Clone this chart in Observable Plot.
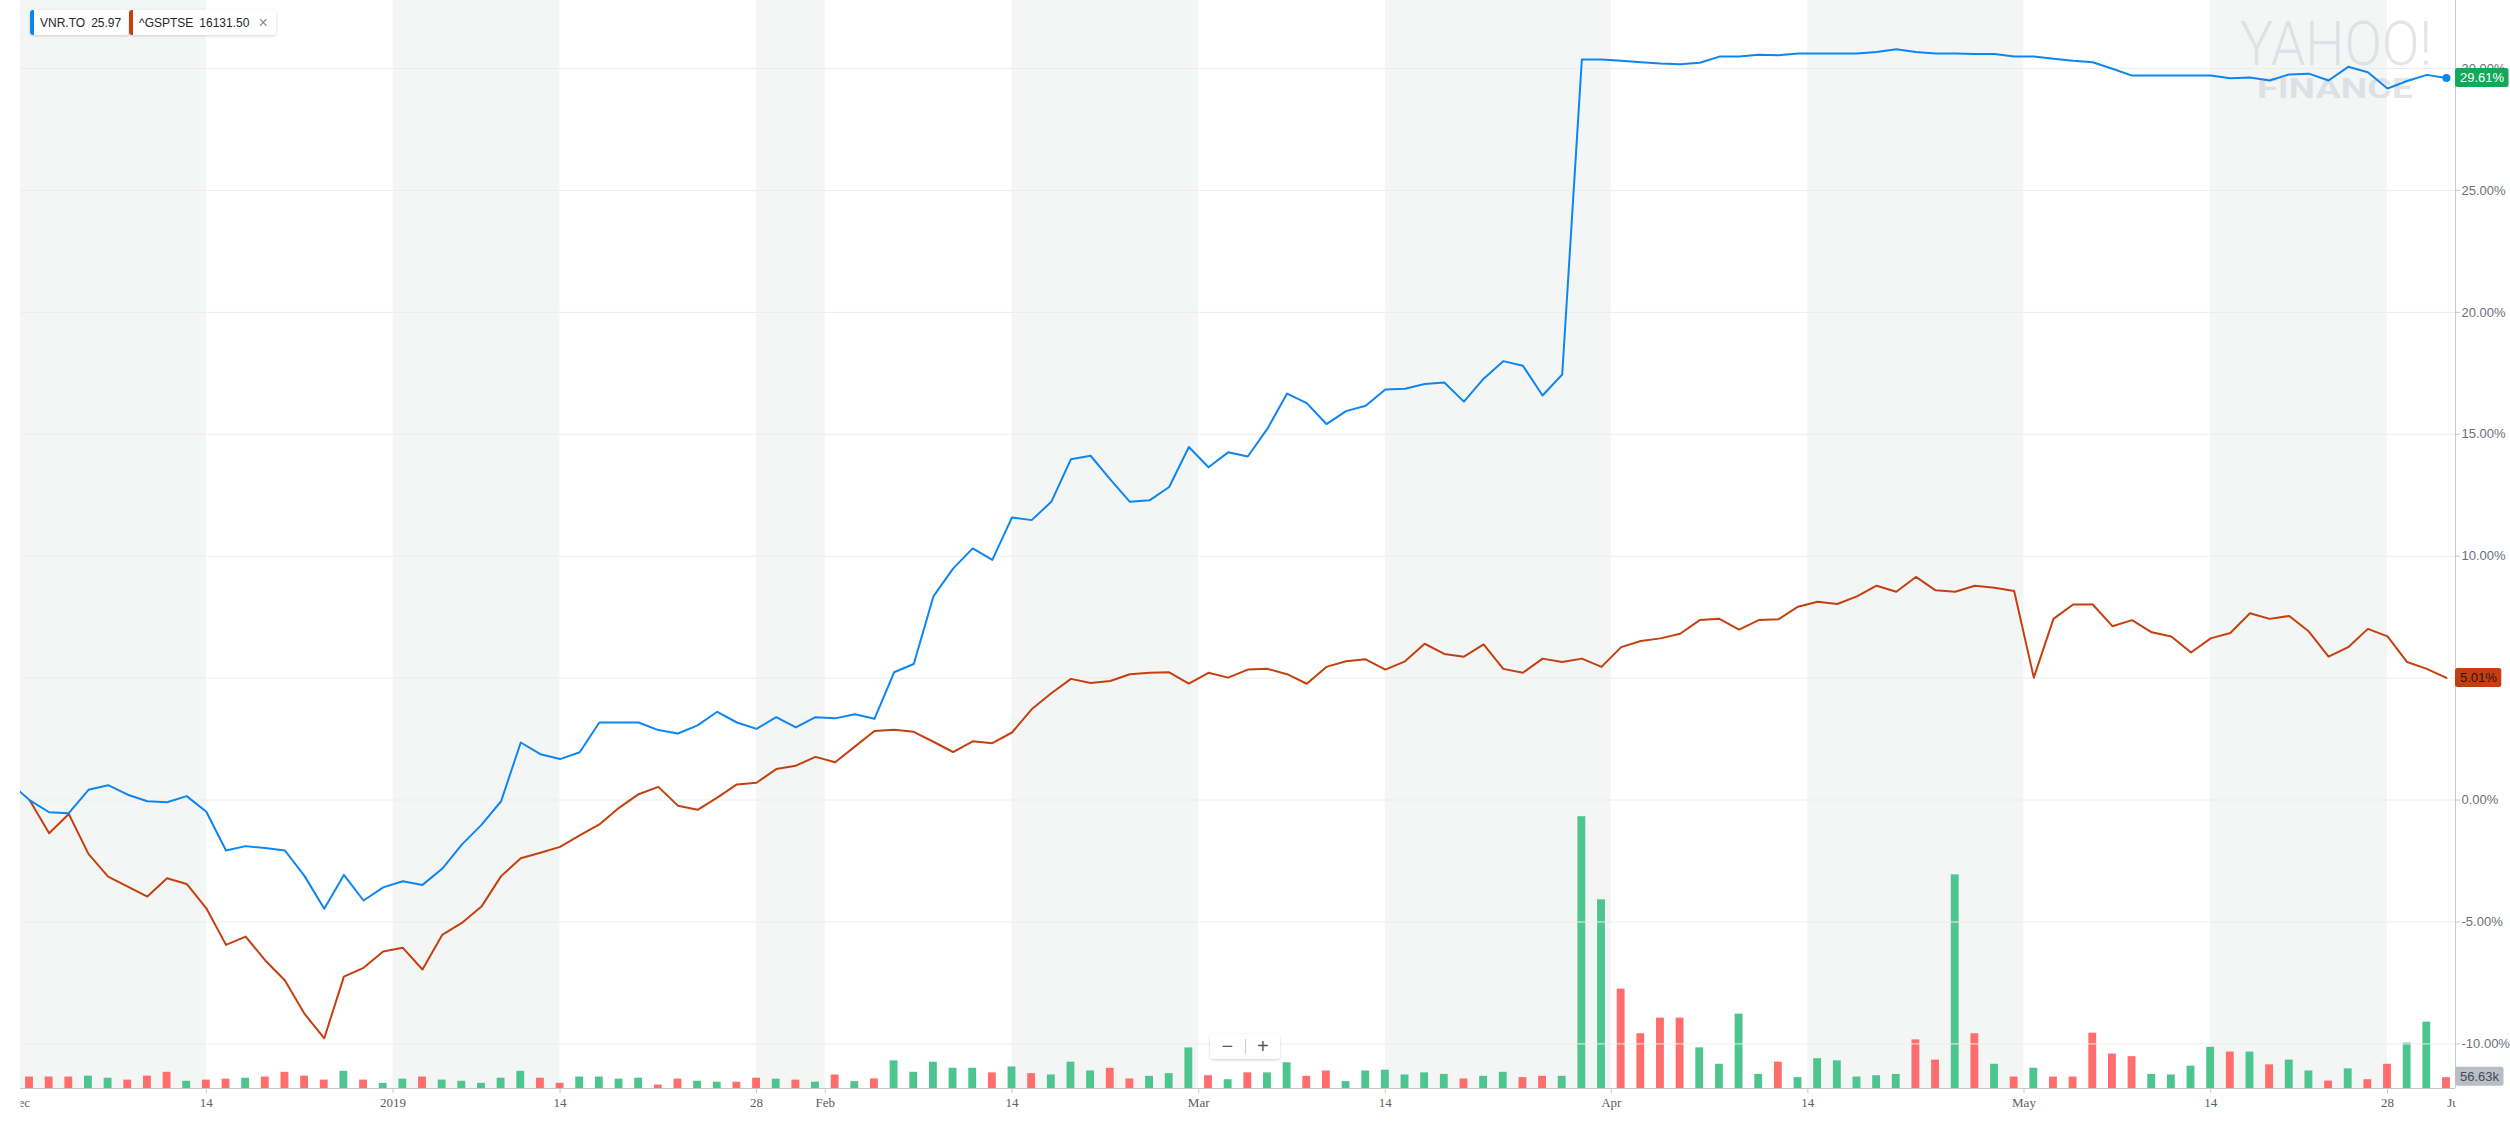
<!DOCTYPE html>
<html>
<head>
<meta charset="utf-8">
<script src="https://cdn.jsdelivr.net/npm/d3@7"></script>
<script src="https://cdn.jsdelivr.net/npm/@observablehq/plot@0.6"></script>
<style>
html,body{margin:0;padding:0;background:#fff;}
#wrap{position:relative;width:2510px;height:1135px;overflow:hidden;background:#fff;}
#wrap svg{position:absolute;left:0;top:0;}
.chip{position:absolute;top:10px;height:25px;background:#fff;border-radius:3px;box-shadow:0 1px 3px rgba(0,0,0,.16);font:12px "Liberation Sans",Arial,sans-serif;color:#26282a;display:flex;align-items:center;box-sizing:border-box;padding:0 8px 0 10px;white-space:nowrap;}
.chip .bar{position:absolute;left:0;top:0;bottom:0;width:4px;border-radius:3px 0 0 3px;}
.chip .val{margin-left:6px;}
.chip .x{margin-left:9px;color:#8a8d92;font-size:16px;line-height:1;}
.zoomctl{position:absolute;left:1210px;top:1034px;width:70px;height:25px;background:#fff;border-radius:3px;box-shadow:0 1px 3px rgba(0,0,0,.18);display:flex;align-items:center;font:20px "Liberation Sans",Arial,sans-serif;color:#555;}
.zoomctl span{flex:1;text-align:center;line-height:25px;}
.zoomctl .sep{flex:0 0 1px;height:15px;background:#ccc;}
</style>
</head>
<body>
<div id="wrap"></div>
<script>
// ---------- data ----------
const symbols = ["VNR.TO", "^GSPTSE"];
const lastPrices = ["25.97", "16131.50"];

// trading-day index 0 = 2018-12-03 ... 123 = 2019-05-31
const vnrPrev = 0.7; // value one session before the window (clipped)
const vnrPct = [
  0, -0.50, -0.54, 0.42, 0.61, 0.22, -0.05, -0.09, 0.16, -0.48,
  -2.07, -1.89, -1.97, -2.07, -3.12, -4.46, -3.07, -4.12, -3.58, -3.33,
  -3.48, -2.82, -1.83, -1.02, -0.05, 2.36, 1.88, 1.68, 1.96, 3.18,
  3.18, 3.18, 2.87, 2.73, 3.06, 3.62, 3.18, 2.92, 3.40, 2.98,
  3.40, 3.35, 3.52, 3.33, 5.24, 5.58, 8.35, 9.49, 10.32, 9.85,
  11.59, 11.48, 12.23, 13.98, 14.12, 13.15, 12.23, 12.29, 12.84, 14.48,
  13.65, 14.26, 14.09, 15.23, 16.67, 16.28, 15.42, 15.95, 16.17, 16.84,
  16.87, 17.06, 17.12, 16.34, 17.28, 18.00, 17.81, 16.59, 17.45, 30.37,
  30.37, 30.32, 30.26, 30.21, 30.18, 30.24, 30.49, 30.49, 30.57, 30.54,
  30.62, 30.62, 30.62, 30.62, 30.68, 30.79, 30.68, 30.62, 30.62, 30.60,
  30.60, 30.49, 30.49, 30.40, 30.32, 30.26, 29.99, 29.71, 29.71, 29.71,
  29.71, 29.71, 29.60, 29.63, 29.51, 29.76, 29.79, 29.51, 30.07, 29.85,
  29.18, 29.49, 29.74, 29.61
];
const tsxPct = [
  0, -1.36, -0.57, -2.21, -3.14, -3.55, -3.96, -3.21, -3.44, -4.44,
  -5.94, -5.60, -6.58, -7.40, -8.77, -9.77, -7.24, -6.88, -6.21, -6.06,
  -6.95, -5.53, -5.04, -4.37, -3.12, -2.39, -2.16, -1.92, -1.45, -1.00,
  -0.32, 0.24, 0.54, -0.23, -0.40, 0.10, 0.64, 0.71, 1.27, 1.41,
  1.77, 1.55, 2.19, 2.83, 2.88, 2.80, 2.39, 1.97, 2.41, 2.33,
  2.77, 3.72, 4.38, 4.97, 4.80, 4.88, 5.16, 5.22, 5.24, 4.77,
  5.22, 5.02, 5.35, 5.38, 5.16, 4.77, 5.46, 5.69, 5.77, 5.35,
  5.69, 6.41, 5.99, 5.88, 6.38, 5.38, 5.22, 5.80, 5.66, 5.80,
  5.46, 6.27, 6.52, 6.63, 6.82, 7.38, 7.43, 6.99, 7.38, 7.41,
  7.93, 8.13, 8.04, 8.35, 8.79, 8.54, 9.15, 8.60, 8.54, 8.79,
  8.71, 8.57, 5.02, 7.43, 8.02, 8.02, 7.13, 7.38, 6.88, 6.71,
  6.05, 6.63, 6.85, 7.66, 7.43, 7.55, 6.91, 5.88, 6.27, 7.02,
  6.71, 5.66, 5.38, 5.01
];
// VNR.TO volume, thousands of shares
const volumeK = [
  60, 60, 60, 65, 54, 44, 65, 85, 38, 44,
  49, 54, 60, 85, 65, 44, 90, 44, 27, 49,
  60, 44, 38, 27, 54, 90, 54, 27, 60, 60,
  49, 54, 18, 49, 38, 33, 33, 54, 49, 44,
  33, 71, 36, 50, 145, 85, 138, 106, 106, 82,
  113, 78, 71, 138, 92, 106, 50, 64, 78, 213,
  67, 46, 82, 82, 135, 64, 92, 36, 92, 96,
  71, 82, 74, 50, 64, 85, 57, 64, 64, 1425,
  989, 521, 287, 369, 369, 213, 127, 390, 74, 138,
  57, 156, 145, 60, 67, 74, 255, 149, 1120, 287,
  127, 60, 106, 60, 60, 290, 181, 167, 74, 71,
  117, 216, 191, 191, 124, 149, 92, 39, 103, 46,
  127, 238, 348, 56.63
];
// 1 = close up (green), 0 = close down (red)
const volUp = [
  0,0,0,1,1,0,0,0,1,0,
  0,1,0,0,0,0,1,0,1,1,
  0,1,1,1,1,1,0,0,1,1,
  1,1,0,0,1,1,0,0,1,0,
  1,0,1,0,1,1,1,1,1,0,
  1,0,1,1,1,0,0,1,1,1,
  0,1,0,1,1,0,0,1,1,1,
  1,1,1,0,1,1,0,0,1,1,
  1,0,0,0,0,1,1,1,1,0,
  1,1,1,1,1,1,0,0,1,0,
  1,0,1,0,0,0,0,0,1,1,
  1,1,0,1,0,1,1,0,1,0,
  0,1,1,0
];
// x tick positions (trading-day index; month starts fall between sessions)
const tickPos = [-0.5, 9, 18.5, 27, 37, 40.5, 50, 59.5, 69, 80.5, 90.5, 101.5, 111, 120, 123.5];
const tickLabels = ["Dec", "14", "2019", "14", "28", "Feb", "14", "Mar", "14", "Apr", "14", "May", "14", "28", "Jun"];
const pctTicks = [-10, -5, 0, 5, 10, 15, 20, 25, 30];

// ---------- layout ----------
const W = 2510, H = 1135, mL = 20, mR = 55, mT = 0, mB = 47;
const xDomain = [-0.458, 123.46];
const pctDomain = [-11.83, 32.79];
const volDomain = [0, 5704];
const BLUE = "#0d86f2", RED = "#c5400f", GREEN_BAR = "#4cc58f", RED_BAR = "#ff6d6d";

const vnr = [{i: -1, v: vnrPrev}].concat(vnrPct.map((v, i) => ({i, v})));
const tsx = tsxPct.map((v, i) => ({i, v}));
const vol = volumeK.map((v, i) => ({i, v, up: volUp[i]}));
const bands = [];
for (let k = 0; k + 1 < tickPos.length; k += 2) bands.push({x1: tickPos[k], x2: tickPos[k + 1]});
const labelOf = new Map(tickPos.map((p, k) => [p, tickLabels[k]]));

const wrap = document.getElementById("wrap");

// bottom layer: shading, volume, x axis
const plotA = Plot.plot({
  width: W, height: H, marginLeft: mL, marginRight: mR, marginTop: mT, marginBottom: mB,
  style: {background: "transparent", fontFamily: "'Liberation Serif', 'DejaVu Serif', serif", fontSize: "13px"},
  x: {type: "linear", domain: xDomain, axis: null},
  y: {domain: volDomain, axis: null},
  marks: [
    Plot.rect(bands, {x1: "x1", x2: "x2", fill: "#f4f6f6", clip: true}),
    Plot.rect(vol, {x1: d => d.i - 0.2, x2: d => d.i + 0.2, y1: 0, y2: "v", fill: d => d.up ? GREEN_BAR : RED_BAR}),
    Plot.ruleY([0], {stroke: "#c4c7cd", strokeWidth: 1.2}),
    Plot.axisX({ticks: tickPos, tickFormat: d => labelOf.get(d), tickSize: 5, tickPadding: 4,
      stroke: "#c4c7cd", fill: "#5b5e63", fontSize: 13, label: null})
  ]
});
wrap.appendChild(plotA);

// clip x-axis labels and ticks to the plot's horizontal extent
{
  const xr = plotA.scale("x").range;
  const s = d3.select(plotA);
  s.append("defs").append("clipPath").attr("id", "xclip")
    .append("rect").attr("x", xr[0]).attr("y", -5000).attr("width", xr[1] - xr[0]).attr("height", 10000);
  s.selectAll('g[aria-label="x-axis tick label"], g[aria-label="x-axis tick"]').attr("clip-path", "url(#xclip)");
  // watermark
  const wm = s.append("g").attr("fill", "#c9ccd1").attr("fill-opacity", 0.5).attr("text-anchor", "start")
    .attr("font-family", "Roboto, 'Liberation Sans', sans-serif");
  wm.append("text").attr("x", 2240).attr("y", 65).attr("font-size", 62).attr("font-weight", 300)
    .attr("textLength", 192).attr("lengthAdjust", "spacingAndGlyphs").text("YAHOO!");
  wm.append("text").attr("x", 2257).attr("y", 98).attr("font-size", 28).attr("font-weight", 700)
    .attr("textLength", 156).attr("lengthAdjust", "spacingAndGlyphs").text("FINANCE");
}

// top layer: grid, right axis, lines
const plotB = Plot.plot({
  width: W, height: H, marginLeft: mL, marginRight: mR, marginTop: mT, marginBottom: mB,
  style: {background: "transparent", fontFamily: "'Liberation Sans', Arial, sans-serif", fontSize: "13px"},
  x: {type: "linear", domain: xDomain, axis: null},
  y: {domain: pctDomain, axis: null},
  marks: [
    Plot.ruleY(pctTicks, {stroke: "#ececec"}),
    Plot.ruleX([xDomain[1]], {stroke: "#c7c9cd"}),
    Plot.axisY({anchor: "right", ticks: pctTicks, tickFormat: d => d.toFixed(2) + "%", tickSize: 4, tickPadding: 2,
      stroke: "#c7c9cd", fill: "#6d7078", fontSize: 13, label: null}),
    Plot.line(tsx, {x: "i", y: "v", stroke: RED, strokeWidth: 2, clip: true}),
    Plot.line(vnr, {x: "i", y: "v", stroke: BLUE, strokeWidth: 2, clip: true}),
    Plot.dot([vnr[vnr.length - 1]], {x: "i", y: "v", r: 4, fill: BLUE, stroke: "none"})
  ]
});
wrap.appendChild(plotB);

// last-value tags
function tag(svg, y, text, bg, fg) {
  const x0 = plotB.scale("x").range[1];
  const g = d3.select(svg).append("g").attr("font-family", "'Liberation Sans', Arial, sans-serif")
    .attr("font-size", 13).attr("text-anchor", "start");
  const t = g.append("text").attr("x", x0 + 5).attr("y", y).attr("dy", "0.35em").attr("fill", fg).text(text);
  const bb = t.node().getBBox();
  g.insert("rect", "text").attr("x", x0).attr("y", y - 9.5).attr("width", bb.width + 9).attr("height", 19).attr("rx", 2.5).attr("fill", bg);
}
tag(plotB, plotB.scale("y").apply(vnrPct[vnrPct.length - 1]), vnrPct[vnrPct.length - 1].toFixed(2) + "%", "#14a85a", "#ffffff");
tag(plotB, plotB.scale("y").apply(tsxPct[tsxPct.length - 1]), tsxPct[tsxPct.length - 1].toFixed(2) + "%", "#c63d0f", "#1b1b1b");
tag(plotB, plotA.scale("y").apply(volumeK[volumeK.length - 1]) - 1, volumeK[volumeK.length - 1].toFixed(2) + "k", "#b9bdc6", "#454b55");

// legend chips
const chipColors = [BLUE, RED];
const chipLeft = [30, 129];
symbols.forEach((s, k) => {
  const c = document.createElement("div");
  c.className = "chip";
  c.style.left = chipLeft[k] + "px";
  c.innerHTML = `<span class="bar" style="background:${chipColors[k]}"></span><span>${s}</span><span class="val">${lastPrices[k]}</span>` + (k > 0 ? `<span class="x">×</span>` : "");
  wrap.appendChild(c);
});

// zoom control
const z = document.createElement("div");
z.className = "zoomctl";
z.innerHTML = `<span>−</span><span class="sep"></span><span>+</span>`;
wrap.appendChild(z);
</script>
</body>
</html>
